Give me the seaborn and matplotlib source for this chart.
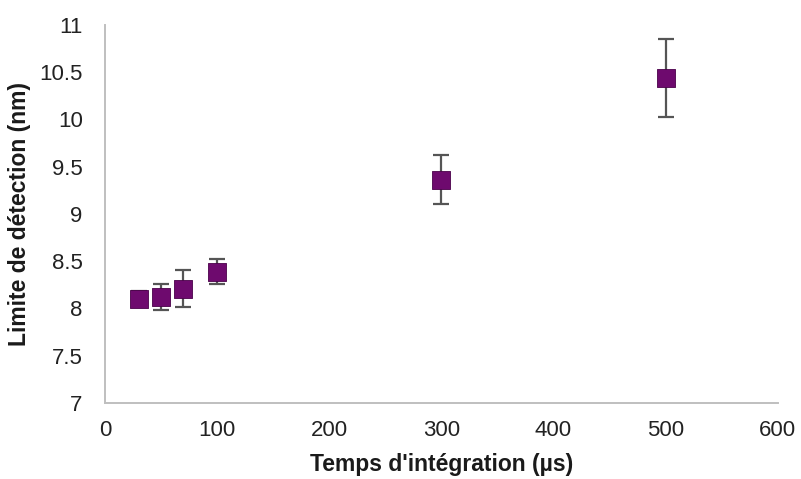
import matplotlib
matplotlib.use("Agg")
import matplotlib.pyplot as plt
import seaborn as sns
import pandas as pd

# Integration time (µs), detection limit (nm) and its uncertainty
temps = [30, 50, 70, 100, 300, 500]
limite = [8.10, 8.12, 8.21, 8.39, 9.36, 10.44]
erreur = [0.08, 0.14, 0.20, 0.13, 0.26, 0.41]

x_ticks = [0, 100, 200, 300, 400, 500, 600]
y_ticks = [7, 7.5, 8, 8.5, 9, 9.5, 10, 10.5, 11]
y_labels = ["7", "7.5", "8", "8.5", "9", "9.5", "10", "10.5", "11"]

df = pd.DataFrame({"temps": temps, "limite": limite, "erreur": erreur})

sns.set_theme(style="white")
plt.rcParams["font.family"] = ["Liberation Sans", "DejaVu Sans"]

fig = plt.figure(figsize=(8.01, 4.79), dpi=100)
ax = fig.add_axes([0.131, 0.159, 0.840, 0.789])

purple = "#6E0A6E"
ax.errorbar(df["temps"], df["limite"], yerr=df["erreur"], fmt="none",
            ecolor="#555555", elinewidth=1.6, capsize=5.5, capthick=1.6, zorder=2)
sns.scatterplot(data=df, x="temps", y="limite", marker="s", s=150,
                color=purple, edgecolor="#4a004a", linewidth=0.6, ax=ax, zorder=3)

ax.set_xlim(0, 600)
ax.set_ylim(7, 11)
ax.set_xticks(x_ticks)
ax.set_yticks(y_ticks)
ax.set_yticklabels(y_labels)
ax.tick_params(axis="both", length=0, labelsize=16, colors="#222222")
ax.tick_params(axis="x", pad=12)
ax.tick_params(axis="y", pad=16)

for side in ("top", "right"):
    ax.spines[side].set_visible(False)
for side in ("left", "bottom"):
    ax.spines[side].set_color("#BFBFBF")
    ax.spines[side].set_linewidth(1.4)

ax.set_xlabel("Temps d'intégration (µs)", fontsize=16.5, fontweight="bold",
              color="#1a1a1a", labelpad=9)
ax.set_ylabel("Limite de détection (nm)", fontsize=16.5, fontweight="bold",
              color="#1a1a1a", labelpad=6)
ax.grid(False)

fig.savefig("out.png", dpi=100, facecolor="white")
